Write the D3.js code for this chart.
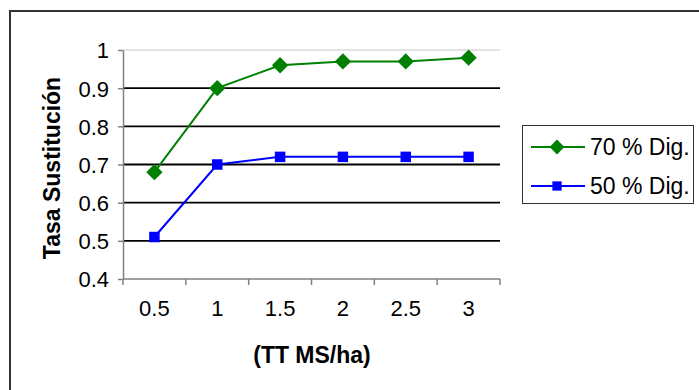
<!DOCTYPE html>
<html>
<head>
<meta charset="utf-8">
<script src="https://cdn.jsdelivr.net/npm/d3@7"></script>
<style>
  body { margin: 0; background: #fff; }
  text { font-family: "Liberation Sans", Arial, sans-serif; }
</style>
</head>
<body>
<script>
const w = 699;
const h = 390;

// ----- DATA -----
const categories = ["0.5", "1", "1.5", "2", "2.5", "3"];
const dig70 = [0.68, 0.90, 0.96, 0.97, 0.97, 0.98];
const dig50 = [0.51, 0.70, 0.72, 0.72, 0.72, 0.72];
const yTicks = [0.4, 0.5, 0.6, 0.7, 0.8, 0.9, 1];
const seriesNames = ["70 % Dig.", "50 % Dig."];

const series = [
  {name: seriesNames[0], values: dig70, color: "#008000", shape: d3.symbolDiamond2},
  {name: seriesNames[1], values: dig50, color: "#0000ff", shape: d3.symbolSquare2}
];

const svg = d3.select("body").append("svg")
  .attr("width", w)
  .attr("height", h);

// outer frame
svg.append("rect")
  .attr("x", 10).attr("y", 11)
  .attr("width", 700).attr("height", 400)
  .attr("fill", "none")
  .attr("stroke", "#333")
  .attr("stroke-width", 2);

// ----- SCALES -----
const x = d3.scaleBand().domain(categories).range([123, 500]);
const y = d3.scaleLinear().domain([0.4, 1]).range([279, 50]);

// gridlines
svg.append("g").selectAll("line")
  .data(yTicks.filter(d => d > 0.4))
  .enter().append("line")
  .attr("x1", 123).attr("x2", 500)
  .attr("y1", d => y(d)).attr("y2", d => y(d))
  .attr("stroke", d => d === 1 ? "#c8c8c8" : "#000")
  .attr("stroke-width", d => d === 1 ? 1 : 1.8);

// y axis
const yAxis = svg.append("g")
  .attr("transform", "translate(123,0)")
  .call(d3.axisLeft(y).tickValues(yTicks).tickFormat(d3.format("")).tickSize(5).tickSizeOuter(0));
yAxis.select(".domain").attr("stroke", "#808080").attr("stroke-width", 1.5);
yAxis.selectAll(".tick line").attr("stroke", "#808080").attr("stroke-width", 1.5);
yAxis.selectAll(".tick text")
  .attr("x", -14)
  .attr("dy", "0.36em")
  .attr("font-size", 22)
  .attr("fill", "#000")
  .style("font-family", "'Liberation Sans', Arial, sans-serif");

// x axis (ticks on band edges)
const xAxis = svg.append("g").attr("transform", "translate(0,279)");
xAxis.append("line")
  .attr("x1", 123).attr("x2", 500)
  .attr("stroke", "#808080").attr("stroke-width", 1.5);
const edges = categories.map(c => x(c)).concat([x.range()[1]]);
xAxis.selectAll(".edge").data(edges).enter().append("line")
  .attr("x1", d => d).attr("x2", d => d)
  .attr("y1", 0).attr("y2", 6)
  .attr("stroke", "#808080").attr("stroke-width", 1.5);
xAxis.selectAll("text").data(categories).enter().append("text")
  .attr("x", d => x(d) + x.bandwidth() / 2)
  .attr("y", 37)
  .attr("text-anchor", "middle")
  .attr("font-size", 22)
  .text(d => d);

// axis titles
svg.append("text")
  .attr("transform", "translate(60,168) rotate(-90)")
  .attr("text-anchor", "middle")
  .attr("font-size", 23)
  .attr("font-weight", "bold")
  .text("Tasa Sustitución");

svg.append("text")
  .attr("x", 312).attr("y", 363)
  .attr("text-anchor", "middle")
  .attr("font-size", 23)
  .attr("font-weight", "bold")
  .text("(TT MS/ha)");

// ----- LINES -----
const line = d3.line()
  .x((d, i) => x(categories[i]) + x.bandwidth() / 2)
  .y(d => y(d));

series.forEach(s => {
  const g = svg.append("g");
  g.append("path")
    .datum(s.values)
    .attr("d", line)
    .attr("fill", "none")
    .attr("stroke", s.color)
    .attr("stroke-width", 2);
  g.selectAll("path.pt").data(s.values).enter().append("path")
    .attr("class", "pt")
    .attr("transform", (d, i) => `translate(${x(categories[i]) + x.bandwidth() / 2},${y(d)})`)
    .attr("d", d3.symbol().type(s.shape).size(s.shape === d3.symbolSquare2 ? 140 : 170))
    .attr("fill", s.color)
    .attr("stroke", "none");
});

// ----- LEGEND -----
const legend = svg.append("g");
legend.append("rect")
  .attr("x", 522.5).attr("y", 125.5)
  .attr("width", 171).attr("height", 78)
  .attr("fill", "#fff")
  .attr("stroke", "#333").attr("stroke-width", 1);

series.forEach((s, i) => {
  const ly = 147 + i * 39;
  legend.append("line")
    .attr("x1", 531).attr("x2", 585)
    .attr("y1", ly).attr("y2", ly)
    .attr("stroke", s.color).attr("stroke-width", 2);
  legend.append("path")
    .attr("transform", `translate(557,${ly})`)
    .attr("d", d3.symbol().type(s.shape).size(s.shape === d3.symbolSquare2 ? 110 : 140))
    .attr("fill", s.color);
  legend.append("text")
    .attr("x", 590).attr("y", ly + 8)
    .attr("font-size", 23)
    .text(s.name);
});
</script>
</body>
</html>
